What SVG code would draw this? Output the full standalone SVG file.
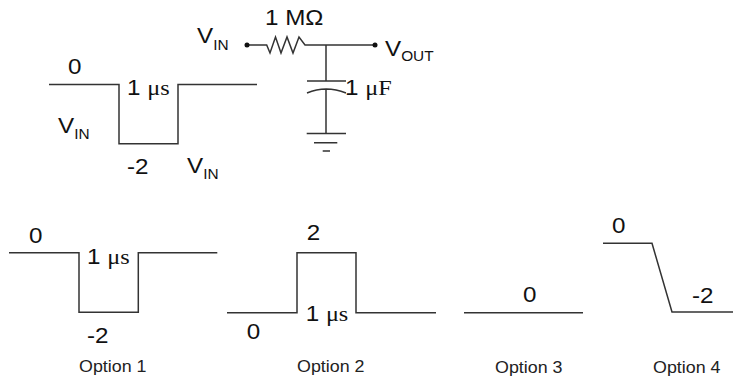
<svg xmlns="http://www.w3.org/2000/svg" width="733" height="381" viewBox="0 0 733 381">
<style>
.w{fill:none;stroke:#333;stroke-width:1.5}
.t{font-family:"Liberation Sans",Arial,sans-serif;font-size:22px;fill:#111}
.s{font-family:"Liberation Serif","Times New Roman",serif}
.sub{font-size:14px}
.o{font-family:"Liberation Sans",Arial,sans-serif;font-size:17px;fill:#222}
</style>
<rect width="733" height="381" fill="#fff"/>
<g id="input-waveform">
<polyline class="w" points="49,84.5 119,84.5 119,143.7 178,143.7 178,84.5 257,84.5"/>
<text class="t" transform="translate(68,74) scale(1.1,1)">0</text>
<text class="t" transform="translate(127,95) scale(1.1,1)">1 <tspan class="s">μs</tspan></text>
<text class="t" transform="translate(58,133) scale(1.1,1)">V<tspan class="sub" dy="6">IN</tspan></text>
<text class="t" transform="translate(127,174) scale(1.1,1)">-2</text>
<text class="t" transform="translate(187,173) scale(1.1,1)">V<tspan class="sub" dy="6">IN</tspan></text>
</g>
<g id="circuit">
<g id="connectors">
<path class="w" d="M247,45 H266.7 L270,53 L275.5,37 L281,53 L287,37 L293,53 L299,37 L305,45 H375"/>
<path class="w" d="M326,45 V81 M307,81 H346 M307,93 Q326,85 346,93 M326,89 V133.5"/>
</g>
<g id="vin-terminal">
<circle cx="247" cy="45" r="2.5" fill="#111"/>
<text class="t" transform="translate(197,43) scale(1.1,1)">V<tspan class="sub" dy="7">IN</tspan></text>
</g>
<g id="resistor"><text class="t" transform="translate(265,25) scale(1.1,1)">1 MΩ</text></g>
<g id="vout-terminal">
<circle cx="375" cy="45" r="2.5" fill="#111"/>
<text class="t" transform="translate(385,56) scale(1.1,1)">V<tspan class="sub" dy="5">OUT</tspan></text>
</g>
<g id="capacitor"><text class="t" transform="translate(345,95) scale(1.1,1)">1 <tspan class="s">μF</tspan></text></g>
<g id="ground">
<path class="w" d="M306.7,133.5 H346 M314,142.7 H337.3 M322.7,151 H330"/>
</g>
</g>
<g id="option1">
<polyline class="w" points="9,252.7 79,252.7 79,312.3 138.3,312.3 138.3,252.7 217.3,252.7"/>
<text class="t" transform="translate(29,243) scale(1.1,1)">0</text>
<text class="t" transform="translate(87,264) scale(1.1,1)">1 <tspan class="s">μs</tspan></text>
<text class="t" transform="translate(87,343) scale(1.1,1)">-2</text>
<text class="o" transform="translate(79,372) scale(1.05,1)">Option 1</text>
</g>
<g id="option2">
<polyline class="w" points="227,312.7 297,312.7 297,252.7 356,252.7 356,312.7 436,312.7"/>
<text class="t" transform="translate(306.7,240) scale(1.1,1)">2</text>
<text class="t" transform="translate(305.7,321) scale(1.1,1)">1 <tspan class="s">μs</tspan></text>
<text class="t" transform="translate(246.7,339) scale(1.1,1)">0</text>
<text class="o" transform="translate(297,372) scale(1.05,1)">Option 2</text>
</g>
<g id="option3">
<line class="w" x1="464" y1="312.7" x2="583" y2="312.7"/>
<text class="t" transform="translate(523,302) scale(1.1,1)">0</text>
<text class="o" transform="translate(495,373) scale(1.05,1)">Option 3</text>
</g>
<g id="option4">
<polyline class="w" points="603,243.3 652,243.3 672,312 733,312"/>
<text class="t" transform="translate(612,233) scale(1.1,1)">0</text>
<text class="t" transform="translate(692,303) scale(1.1,1)">-2</text>
<text class="o" transform="translate(653,373) scale(1.05,1)">Option 4</text>
</g>
</svg>
